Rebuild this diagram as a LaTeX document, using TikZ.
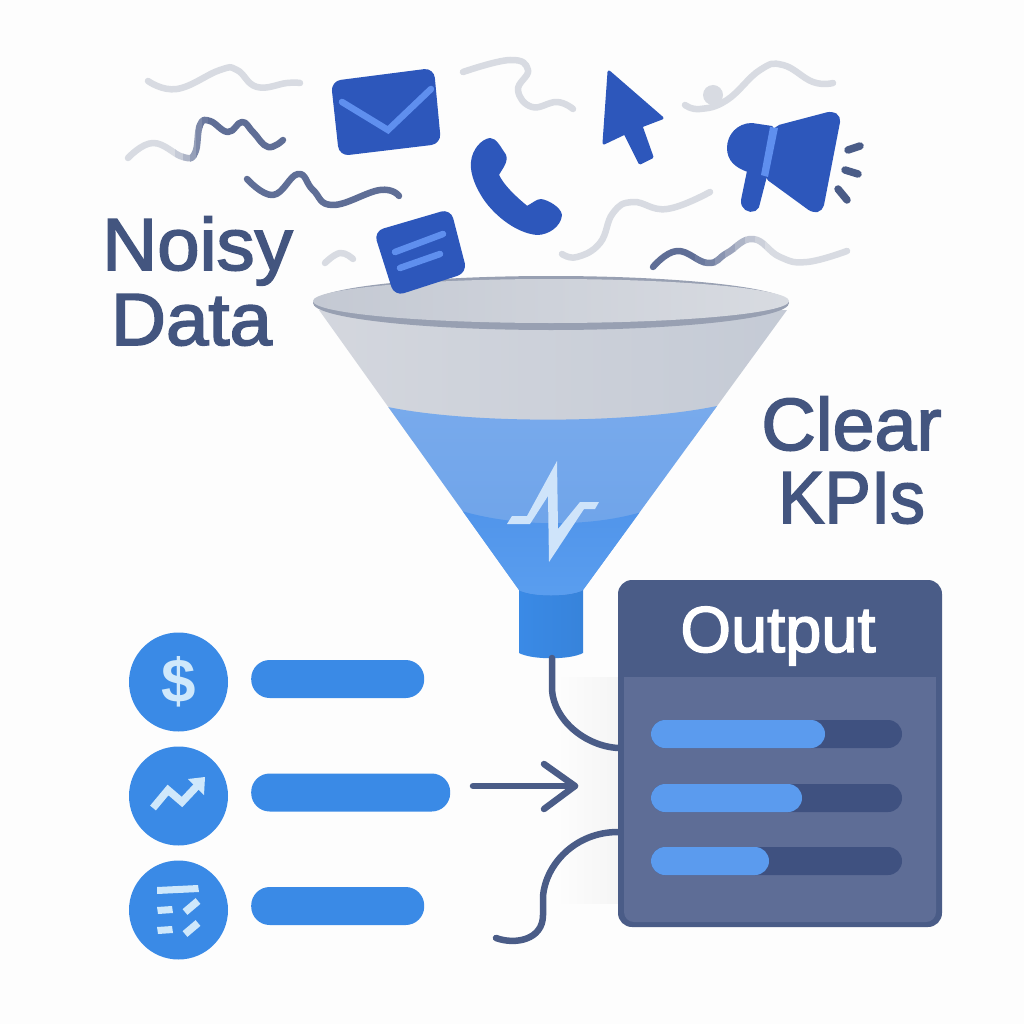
\documentclass[tikz,border=0pt]{standalone}
\usepackage{fontspec}
\usepackage{graphicx}
\setmainfont{Liberation Sans}
\newfontfamily\hfont[FakeBold=2.2]{Liberation Sans}
\usetikzlibrary{calc}
\definecolor{bgc}{HTML}{FDFDFD}
\definecolor{iconb}{HTML}{2D57BB}
\definecolor{iconl}{HTML}{5F8FEE}
\definecolor{navy}{HTML}{4A5C87}
\definecolor{body}{HTML}{5E6D96}
\definecolor{track}{HTML}{3F5180}
\definecolor{barb}{HTML}{5B9BEE}
\definecolor{kpi}{HTML}{3A8AE6}
\definecolor{pale}{HTML}{CFE8FB}
\definecolor{sqg}{HTML}{D8DBE2}
\definecolor{sqd}{HTML}{5F6E96}
\definecolor{txt}{HTML}{43557F}
\definecolor{coneL}{RGB}{212,215,222}
\definecolor{coneR}{RGB}{196,202,213}
\definecolor{blueT}{RGB}{120,170,236}
\definecolor{blueB}{RGB}{105,160,232}
\definecolor{deepT}{RGB}{80,148,234}
\definecolor{deepB}{RGB}{92,160,240}
\definecolor{rimD}{RGB}{152,160,178}
\definecolor{rimL}{RGB}{196,201,211}
\definecolor{rimM}{RGB}{206,210,218}
\definecolor{rimR}{RGB}{216,219,225}
\definecolor{pulse}{RGB}{207,228,250}
\tikzset{
  squiggle/.style={line width=6.5pt,line cap=round,line join=round,smooth,tension=0.75},
  iconfill/.style={fill=iconb,draw=iconb,line width=2pt,line join=round},
  iconline/.style={draw=iconl,line width=6.5pt,line cap=round,line join=miter},
  tick/.style={draw=navy,line width=7.5pt,line cap=round},
  conn/.style={draw=navy,line width=6.5pt,line cap=round,line join=round},
  kpicircle/.style={circle,fill=kpi,draw=none,minimum size=99pt,inner sep=0pt},
  kpibar/.style={rectangle,rounded corners=18.5pt,fill=kpi,minimum height=38pt,inner sep=0pt,anchor=west},
  paleln/.style={draw=pale,line cap=butt,line join=miter},
  headtxt/.style={text=txt,anchor=base,inner sep=0pt,font=\hfont\fontsize{74}{74}\selectfont},
  trackbar/.style={fill=track,rounded corners=14pt},
  valbar/.style={fill=barb,rounded corners=14pt}
}
\begin{document}
\begin{tikzpicture}[x=1pt,y=-1pt]
\useasboundingbox (0,0) rectangle (1024,1024);
\fill[bgc] (0,0) rectangle (1024,1024);

% soft backdrop
\shade[left color=bgc,right color=black!4] (557,677) rectangle (620,903);

% squiggles
\draw[squiggle,sqg] plot coordinates {(148,81)(177,89)(220,70)(237,70)(257,87)(287,83)(300,83)};
\draw[squiggle,sqd] plot coordinates {(247,179)(273,195)(298,174)(313,190)(333,205)(380,190)(399,196)};
\draw[squiggle,sqg] plot coordinates {(325,263)(340,253)(353,259)};
\draw[squiggle,sqg] plot coordinates {(463,72)(510,60)(528,70)(518,90)(532,107)(557,102)(573,109)};
\draw[squiggle,sqg] plot coordinates {(685,105)(700,109)(727,100)(760,70)(783,65)(813,82)(833,83)};
\fill[sqg] (713,95) circle (10);
\draw[squiggle,sqg] plot coordinates {(710,192)(667,209)(633,202)(613,213)(600,243)(577,257)(562,254)};
% gradient squiggles
\foreach \xa/\xb/\p in {120/175/0,175/183/15,183/190/35,190/196/55,196/202/75,202/208/90,208/300/100}{
  \begin{scope}
    \clip (\xa,100) rectangle (\xb+0.5,175);
    \draw[squiggle,sqd!\p!sqg] plot coordinates {(128,158)(153,143)(183,157)(195,153)(200,125)(210,121)(228,132)(242,122)(253,132)(268,147)(283,140)};
  \end{scope}
}
\foreach \xa/\xb/\p in {640/695/100,695/705/90,705/715/80,715/725/65,725/735/50,735/745/35,745/755/20,755/765/10,765/860/0}{
  \begin{scope}
    \clip (\xa,230) rectangle (\xb+0.5,280);
    \draw[squiggle,sqd!\p!sqg] plot coordinates {(653,267)(677,251)(708,263)(727,253)(753,239)(780,257)(807,262)(847,251)};
  \end{scope}
}

% envelope
\draw[iconfill,rounded corners=9pt] (332,82) -- (433,69) -- (440,143) -- (340,155) -- cycle;
\draw[iconline] (342,102) -- (388,130) -- (431,89);
% phone
\draw[iconfill] (490,139) .. controls (496,139) and (500,148) .. (505,155)
  .. controls (508,162) and (500,170) .. (498,175)
  .. controls (503,186) and (516,198) .. (527,207)
  .. controls (533,204) and (537,200) .. (541,200)
  .. controls (548,201) and (560,208) .. (561,215)
  .. controls (560,226) and (548,234) .. (537,234)
  .. controls (515,232) and (492,212) .. (482,195)
  .. controls (474,182) and (471,170) .. (472,162)
  .. controls (473,150) and (482,140) .. (490,139) -- cycle;
% pointer
\draw[iconfill,line width=3pt] (609,72) -- (662,118) -- (641,126) -- (652,157) -- (640,163) -- (625,133) -- (604,143) -- cycle;
% megaphone
\draw[iconfill,rounded corners=5pt] (775,127) -- (832,112) -- (840,117) -- (822,210) -- (813,212) -- (765,177) -- cycle;
\draw[iconfill] (772,127) -- (752,124) .. controls (738,124) and (728,135) .. (728,148)
  .. controls (728,160) and (736,167) .. (748,171) -- (742,200)
  .. controls (741,208) and (749,213) .. (755,210) -- (758,207) -- (766,176) -- cycle;
\fill[iconl] (770,127) -- (778,128) -- (768,177) -- (761,175) -- cycle;
\draw[tick] (848,150) -- (860,146);
\draw[tick] (845,170) -- (858,174);
\draw[tick] (838,189) -- (847,200);

% funnel
\shade[left color=kpi,right color=kpi!95!black] (519,590) -- (583,590) -- (583,653) .. controls (570,660) and (532,660) .. (519,653) -- cycle;
\begin{scope}
  \clip (319,310) -- (787,310) -- (583,590) .. controls (570,597) and (532,597) .. (519,590) -- cycle;
  \shade[left color=coneL,right color=coneR] (310,300) rectangle (800,440);
  \shade[top color=blueT,bottom color=blueB] (370,407) -- (388,407) .. controls (470,424) and (630,424) .. (717,406) -- (735,406) -- (735,620) -- (370,620) -- cycle;
  \shade[top color=deepT,bottom color=deepB] (440,503) .. controls (500,530) and (610,530) .. (665,503) -- (665,620) -- (440,620) -- cycle;
\end{scope}
\fill[rimD] (551,303) ellipse (238 and 27);
\shade[left color=rimL,right color=rimR,middle color=rimM] (551,301) ellipse (238 and 22);
\fill[pulse] (507,524) -- (512,516) -- (527,516) -- (557,461) -- (558,529) -- (580,502) -- (599,502) -- (595,509) -- (584,509) -- (549,562) -- (548,496) -- (530,524) -- cycle;

% message (over the rim)
\draw[iconfill,rounded corners=9pt] (375,232) -- (450,210) -- (466,272) -- (395,295) -- cycle;
\draw[iconline] (395,252) -- (443,234);
\draw[iconline] (400,268) -- (440,254);

% headings
\node[headtxt] (noisy) at (197.5,270) {\scalebox{1.03}[1]{Noisy}};
\node[headtxt] (data) at (191.5,345) {\scalebox{1.03}[1]{Data}};
\node[headtxt] (clear) at (851.5,450) {\scalebox{1.02}[1]{Clear}};
\node[headtxt] (kpis) at (851.5,523) {\scalebox{0.94}[1]{KPIs}};

% output panel
\node[rectangle,rounded corners=14pt,fill=navy,draw=none,minimum width=324pt,minimum height=347pt,inner sep=0pt] (panel) at (780,753.5) {};
\fill[body,rounded corners=10pt] (624,700) rectangle (936,922);
\fill[body] (624,677) rectangle (936,720);
\node[text=white,anchor=base,inner sep=0pt,font=\hfont\fontsize{65}{65}\selectfont] (outlbl) at (778,652) {Output};
\fill[trackbar] (651,720) rectangle (902,748);
\fill[trackbar] (651,784) rectangle (902,812);
\fill[trackbar] (651,847) rectangle (902,875);
\fill[valbar] (651,720) rectangle (825,748);
\fill[valbar] (651,784) rectangle (802,812);
\fill[valbar] (651,847) rectangle (769,875);

% connectors
\coordinate (neckb) at (552,658);
\coordinate (p1) at (618,748);
\coordinate (p2) at (618,832);
\coordinate (end3) at (496,938);
\coordinate (arrs) at (473,786);
\coordinate (arre) at (575,786);
\coordinate (h1) at (544,764);
\coordinate (h2) at (544,809);
\draw[conn] (neckb) -- (552,690) .. controls (554,720) and (585,746) .. (p1);
\draw[conn] (p2) .. controls (575,832) and (545,865) .. (543,897) -- (543,915) .. controls (543,940) and (515,945) .. (end3);
\draw[conn] (arrs) -- (arre);
\draw[conn] (h1) -- (arre) -- (h2);

% kpi rows
\node[kpicircle] (c1) at (178.5,682) {};
\node[kpicircle] (c2) at (178.5,796) {};
\node[kpicircle] (c3) at (178.5,910) {};
\node[kpibar,minimum width=173pt] (b1) at (251,679) {};
\node[kpibar,minimum width=199pt] (b2) at (251,792.5) {};
\node[kpibar,minimum width=173pt] (b3) at (251,906) {};
\node[text=pale,inner sep=0pt,font=\bfseries\fontsize{62}{62}\selectfont] (dollar) at (178.5,682) {\$};
% chart icon
\draw[paleln,line width=7.5pt] (153,808) -- (168,790) -- (182,802) -- (197,786);
\fill[pale] (188,779) -- (205,777) -- (204,795) -- cycle;
% list icon
\fill[pale] (157,887) -- (198,885) -- (199,892) -- (157,894) -- cycle;
\fill[pale] (157,907) -- (172,906) -- (173,913) -- (158,914) -- cycle;
\fill[pale] (157,927) -- (172,926) -- (173,933) -- (158,934) -- cycle;
\draw[paleln,line width=7.5pt] (185,912) -- (198,901);
\draw[paleln,line width=7.5pt] (185,934) -- (198,923);
\end{tikzpicture}
\end{document}
